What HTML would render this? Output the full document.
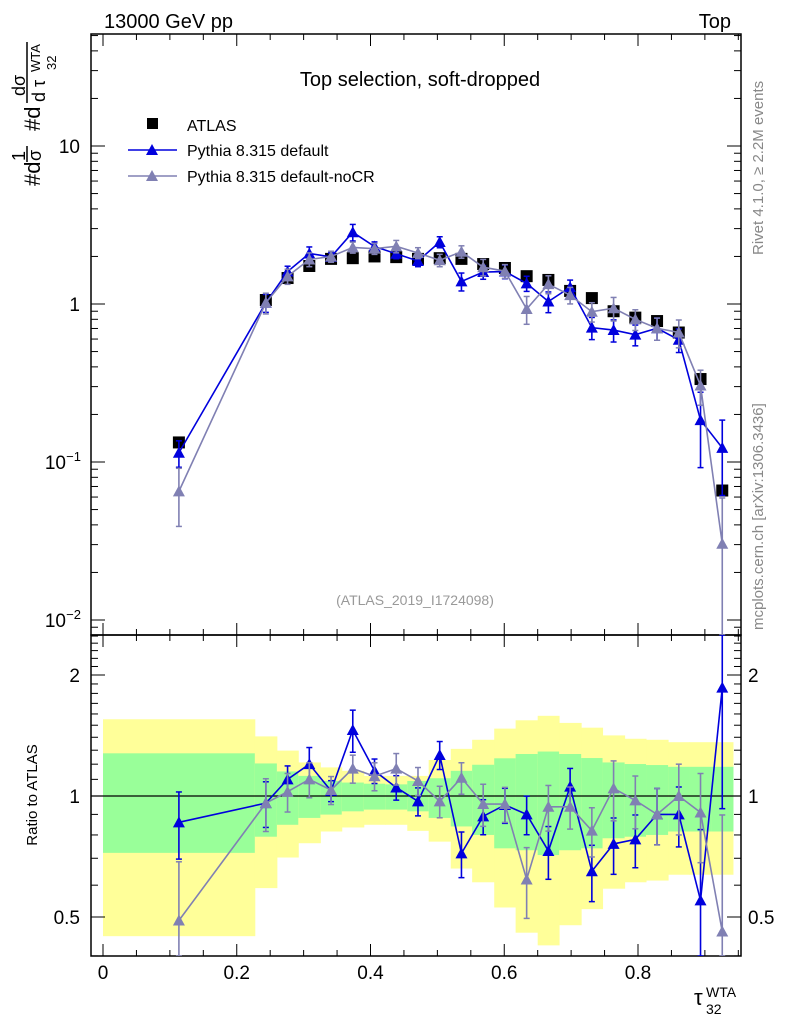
<!DOCTYPE html>
<html><head><meta charset="utf-8"><style>
html,body{margin:0;background:#fff;width:786px;height:1024px;overflow:hidden;}
svg{display:block;}
svg text{font-family:"Liberation Sans",sans-serif;}
</style></head><body>
<svg id="c" width="786" height="1024" xmlns="http://www.w3.org/2000/svg"></svg>
<script>
const edges=[0,0.227,0.26,0.292,0.325,0.357,0.39,0.422,0.455,0.487,0.52,0.552,0.585,0.617,0.65,0.682,0.715,0.747,0.78,0.812,0.845,0.877,0.91,0.942];
const dataVals=[0.133,1.06,1.46,1.74,1.93,1.95,2.0,1.98,1.93,1.95,1.93,1.79,1.69,1.5,1.42,1.21,1.09,0.9,0.82,0.78,0.66,0.335,0.066];
const blueRatio=[0.86,0.96,1.10,1.20,1.03,1.46,1.155,1.05,0.97,1.265,0.72,0.89,0.95,0.90,0.73,1.055,0.65,0.76,0.78,0.90,0.90,0.55,1.86];
const blueErr=[0.19,0.13,0.08,0.1,0.06,0.12,0.07,0.07,0.08,0.08,0.13,0.1,0.1,0.11,0.15,0.11,0.16,0.16,0.15,0.16,0.17,0.5,0.5];
const greyRatio=[0.49,0.96,1.025,1.10,1.035,1.17,1.12,1.17,1.09,0.97,1.11,0.955,0.955,0.62,0.94,0.94,0.82,1.045,0.975,0.90,1.0,0.91,0.46];
const greyErr=[0.4,0.15,0.11,0.1,0.08,0.08,0.08,0.09,0.08,0.09,0.09,0.12,0.1,0.2,0.13,0.12,0.14,0.17,0.15,0.16,0.2,0.25,0.95];
const yelTop=[1.552,1.407,1.297,1.212,1.178,1.155,1.122,1.122,1.122,1.229,1.310,1.380,1.471,1.543,1.583,1.520,1.479,1.415,1.388,1.380,1.361,1.361,1.361];
const yelBot=[0.448,0.590,0.703,0.763,0.816,0.835,0.848,0.848,0.819,0.770,0.660,0.610,0.528,0.457,0.425,0.477,0.523,0.588,0.610,0.616,0.637,0.637,0.637];
const grnTop=[1.277,1.205,1.151,1.122,1.090,1.080,1.073,1.069,1.090,1.107,1.155,1.196,1.241,1.272,1.290,1.272,1.243,1.212,1.201,1.194,1.182,1.182,1.182];
const grnBot=[0.722,0.792,0.848,0.882,0.899,0.916,0.925,0.925,0.916,0.882,0.840,0.800,0.741,0.733,0.713,0.733,0.741,0.785,0.792,0.800,0.816,0.816,0.816];
const xTicks=[0,0.2,0.4,0.6,0.8];
const xTickLabels=["0","0.2","0.4","0.6","0.8"];
const yMainTicks=[0.01,0.1,1,10];
const yMainLabels=["10","10","1","10"];
const yRatioTicks=[0.5,1,2];
const yRatioLabels=["0.5","1","2"];

const NS="http://www.w3.org/2000/svg";
const svg=document.getElementById('c');
const L=91,R=741,T=34,MB=635,B=956;
const X=v=>103+668.75*v;
const YM=v=>Math.min(MB,Math.max(T,304-158*Math.log10(v)));
const YR=r=>Math.min(B,Math.max(MB,796-121*Math.log2(r)));
function el(tag,attrs,parent){const e=document.createElementNS(NS,tag);for(const k in attrs)e.setAttribute(k,attrs[k]);(parent||svg).appendChild(e);return e;}
function txt(s,attrs){const e=el('text',attrs);e.textContent=s;return e;}

const bands=el('g',{});


for(let i=0;i<dataVals.length;i++){
  const x0=X(edges[i]),x1=X(edges[i+1]);
  const yb=el('rect',{x:x0,y:YR(yelTop[i]),width:x1-x0+0.5,height:YR(yelBot[i])-YR(yelTop[i]),fill:'#ffff99'},bands);
  
  
  const gb=el('rect',{x:x0,y:YR(grnTop[i]),width:x1-x0+0.5,height:YR(grnBot[i])-YR(grnTop[i]),fill:'#99ff99'},bands);
  
  
}
el('line',{x1:L,x2:R,y1:YR(1),y2:YR(1),stroke:'#000','stroke-width':1.2});

const f1=el('rect',{x:L,y:T,width:R-L,height:MB-T,fill:'none',stroke:'#000','stroke-width':1.5});

const f2=el('rect',{x:L,y:MB,width:R-L,height:B-MB,fill:'none',stroke:'#000','stroke-width':1.5});


for(let v=0;v<=0.951;v+=0.05){
  const major=Math.abs(v*5-Math.round(v*5))<1e-6;
  const len=major?12:6;
  [T,MB].forEach(y0=>el('line',{x1:X(v),x2:X(v),y1:y0,y2:y0+len,stroke:'#000'}));
  [MB,B].forEach(y0=>el('line',{x1:X(v),x2:X(v),y1:y0,y2:y0-len,stroke:'#000'}));
}
xTicks.forEach((v,i)=>{const t=txt(xTickLabels[i],{x:X(v),y:979,'font-size':19,'text-anchor':'middle'});
});

for(let d=-3;d<=1;d++){for(let m=1;m<10;m++){const v=m*Math.pow(10,d);const y=304-158*Math.log10(v);if(y<T||y>MB)continue;
  const len=m==1?14:7;
  el('line',{x1:L,x2:L+len,y1:y,y2:y,stroke:'#000'});el('line',{x1:R,x2:R-len,y1:y,y2:y,stroke:'#000'});}}
yMainTicks.forEach((v,i)=>{
  const t=txt(yMainLabels[i],{x:80,y:YM(v)+7,'font-size':19,'text-anchor':'end'});
  
  if(v<1){const s=el('tspan',{'font-size':13,dy:-8,x:81},t);s.textContent=v==0.1?'−1':'−2';s.setAttribute('text-anchor','end');
    t.setAttribute('x',66);}
});
[0.4,0.5,0.6,0.7,0.8,0.9,1,1.1,1.2,1.3,1.4,1.5,1.6,1.7,1.8,1.9,2,2.1,2.2,2.3,2.4,2.5].forEach(v=>{
  const y=796-121*Math.log2(v);if(y<MB||y>B)return;const major=yRatioTicks.includes(v);const len=major?14:7;
  el('line',{x1:L,x2:L+len,y1:y,y2:y,stroke:'#000'});el('line',{x1:R,x2:R-len,y1:y,y2:y,stroke:'#000'});});
yRatioTicks.forEach((v,i)=>{
  const t=txt(yRatioLabels[i],{x:80,y:YR(v)+7,'font-size':19,'text-anchor':'end'});
  
  const t2=txt(yRatioLabels[i],{x:748,y:YR(v)+7,'font-size':19});
  
});

const defs=el('defs',{});
const c1=el('clipPath',{id:'cm'},defs);el('rect',{x:L,y:T,width:R-L,height:MB-T},c1);
const c2=el('clipPath',{id:'cr'},defs);el('rect',{x:L,y:MB,width:R-L,height:B-MB},c2);

const centers=dataVals.map((_,i)=>(edges[i]+edges[i+1])/2);
function tri(x,y,col,g){el('polygon',{points:`${x},${y-6} ${x-6},${y+5} ${x+6},${y+5}`,fill:col},g);}
function series(ratio,err,col,name){
  [['cm',YM,i=>ratio[i]*dataVals[i]],['cr',YR,i=>ratio[i]]].forEach(([cp,Y,val])=>{
    const g=el('g',{'clip-path':`url(#${cp})`});
    
    
    const pts=centers.map((c,i)=>`${X(c)},${Y(val(i))}`).join(' ');
    el('polyline',{points:pts,fill:'none',stroke:col,'stroke-width':1.6},g);
    centers.forEach((c,i)=>{const v=val(i),x=X(c);const lo=Math.max(v*(1-err[i]),1e-4),hi=v*(1+err[i]);
      el('line',{x1:x,x2:x,y1:Y(lo),y2:Y(hi),stroke:col,'stroke-width':1.6},g);
      el('line',{x1:x-3,x2:x+3,y1:Y(lo),y2:Y(lo),stroke:col,'stroke-width':1.5},g);
      el('line',{x1:x-3,x2:x+3,y1:Y(hi),y2:Y(hi),stroke:col,'stroke-width':1.5},g);
      tri(x,Y(v),col,g);});
  });
}
const dg=el('g',{'clip-path':'url(#cm)'});

centers.forEach((c,i)=>{el('rect',{x:X(c)-6,y:YM(dataVals[i])-6,width:12,height:12,fill:'#000'},dg);});
series(blueRatio,blueErr,'#0000dd','pythia-default');
series(greyRatio,greyErr,'#8080b3','pythia-default-nocr');

function label(s,attrs,name){const t=txt(s,attrs);return t;}
label('13000 GeV pp',{x:104,y:28,'font-size':20},'energy-label');
label('Top',{x:731,y:28,'font-size':20,'text-anchor':'end'},'process-label');
label('Top selection, soft-dropped',{x:420,y:86,'font-size':20,'text-anchor':'middle'},'plot-title');
label('(ATLAS_2019_I1724098)',{x:415,y:605,'font-size':14,'text-anchor':'middle',fill:'#999'},'analysis-id');
label('Rivet 4.1.0, ≥ 2.2M events',{x:0,y:0,'font-size':15,fill:'#888',transform:'translate(763,255) rotate(-90)'},'rivet-label');
label('mcplots.cern.ch [arXiv:1306.3436]',{x:0,y:0,'font-size':15,fill:'#888',transform:'translate(763,630) rotate(-90)'},'mcplots-label');
label('Ratio to ATLAS',{x:0,y:0,'font-size':15,'text-anchor':'middle',transform:'translate(37,795) rotate(-90)'},'ratio-y-title');
label('#d',{x:0,y:0,'font-size':22,transform:'translate(40,186) rotate(-90)'},'y-title-hash-d-1');
label('1',{x:0,y:0,'font-size':18,transform:'translate(25,161) rotate(-90)'},'y-title-one');
label('σ',{x:0,y:0,'font-size':18,transform:'translate(41,161) rotate(-90)'},'y-title-sigma');
el('line',{x1:27,x2:27,y1:146,y2:162,stroke:'#000','stroke-width':1.5});
label('#d',{x:0,y:0,'font-size':22,transform:'translate(40,131) rotate(-90)'},'y-title-hash-d-2');
label('dσ',{x:0,y:0,'font-size':18,transform:'translate(25,96) rotate(-90)'},'y-title-dsigma');
el('line',{x1:27,x2:27,y1:42,y2:103,stroke:'#000','stroke-width':1.5});
label('d τ',{x:0,y:0,'font-size':18,transform:'translate(45,102) rotate(-90)'},'y-title-dtau');
label('WTA',{x:0,y:0,'font-size':13,transform:'translate(40,72) rotate(-90)'},'y-title-wta');
label('32',{x:0,y:0,'font-size':13,transform:'translate(56,70) rotate(-90)'},'y-title-32');
label('τ',{x:694,y:1005,'font-size':22},'x-axis-title');
label('WTA',{x:706,y:997,'font-size':14},'x-title-sup');
label('32',{x:706,y:1014,'font-size':14},'x-title-sub');

const lg=el('g',{});
el('rect',{x:147,y:118,width:11,height:11,fill:'#000'},lg);
label('ATLAS',{x:187,y:131,'font-size':16},'legend-atlas');
el('line',{x1:128,x2:177,y1:150,y2:150,stroke:'#0000dd','stroke-width':1.5},lg);tri(152,150,'#0000dd',lg);
label('Pythia 8.315 default',{x:187,y:156,'font-size':16},'legend-default');
el('line',{x1:128,x2:177,y1:176,y2:176,stroke:'#8080b3','stroke-width':1.5},lg);tri(152,176,'#8080b3',lg);
label('Pythia 8.315 default-noCR',{x:187,y:182,'font-size':16},'legend-nocr');
</script>
</body></html>
